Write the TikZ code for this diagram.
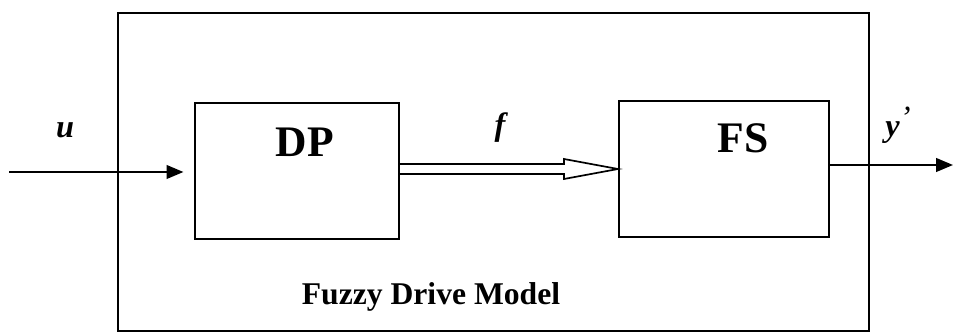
\documentclass[tikz,border=0pt]{standalone}
\usepackage{fontspec}
\setmainfont{Liberation Serif}
\usetikzlibrary{arrows.meta,calc,positioning}
\tikzset{>={Triangle[length=4.2mm,width=3.4mm]}}
\tikzset{
  blockbox/.style={draw, line width=1.4pt, inner sep=0pt},
  blocktext/.style={font=\fontsize{31}{31}\selectfont\bfseries},
  signal/.style={font=\fontsize{23}{23}\selectfont\bfseries\itshape},
  hollowarrow/.style={draw, line width=1.2pt, fill=white, line join=miter},
}

\begin{document}
\begin{tikzpicture}[x=0.025cm, y=-0.025cm]
  \useasboundingbox (0,0) rectangle (955,333);
  % outer model frame and the two blocks
  \node[blockbox, minimum width=18.775cm, minimum height=7.95cm] (model) at (493.5,172) {};
  \node[blockbox, minimum width=5.1cm, minimum height=3.4cm] (dp) at (297,171) {};
  \node[blockbox, minimum width=5.25cm, minimum height=3.4cm] (fs) at (724,169) {};
  \node[blocktext] (dptext) at (305,142) {DP};
  \node[blocktext] (fstext) at (743,138) {FS};
  \node[font=\fontsize{22.5}{22.5}\selectfont\bfseries] (modeltext) at (431,297) {Fuzzy Drive Model};

  % input and output signals
  \coordinate (in) at (9,172);
  \coordinate (out) at (953,165);
  \draw[->, line width=1.4pt, shorten >=7.5pt] (in) -- (in -| dp.west);
  \draw[->, line width=1.4pt] (fs.east |- out) -- (out);
  \node[signal] (ulabel) at (65,130) {u};
  \node[signal] (ylabel) at (898,125) {y\raisebox{0.55ex}{\mdseries'}};

  % hollow arrow from DP to FS
  \draw[hollowarrow] ($(dp.east |- fs.west)+(0,-5)$) -- ($(fs.west)+(-54,-5)$)
    -- ($(fs.west)+(-54,-10)$) -- (fs.west) -- ($(fs.west)+(-54,10)$)
    -- ($(fs.west)+(-54,5)$) -- ($(dp.east |- fs.west)+(0,5)$);
  \node[signal] (flabel) at (500,128) {f};
\end{tikzpicture}
\end{document}
